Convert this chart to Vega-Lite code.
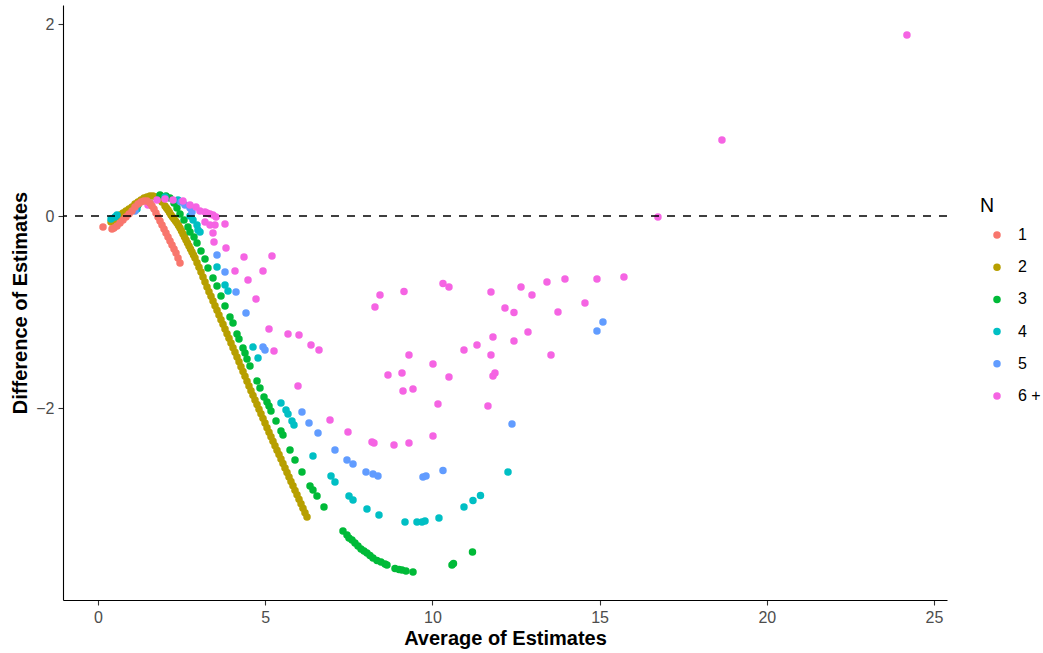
{
  "$schema": "https://vega.github.io/schema/vega-lite/v6.json",
  "width": 884,
  "height": 595,
  "autosize": {"type": "none"},
  "padding": {"left": 63, "top": 5, "right": 96, "bottom": 53},
  "background": "white",
  "config": {"view": {"stroke": null}, "font": "Liberation Sans"},
  "layer": [
    {
      "data": {"values": [
        {"avg":0.389,"diff":-0.0625,"N":"2"},{"avg":0.478,"diff":-0.042,"N":"2"},{"avg":0.568,"diff":-0.010,"N":"2"},{"avg":0.658,"diff":0.010,"N":"2"},{"avg":0.748,"diff":0.031,"N":"2"},{"avg":0.837,"diff":0.052,"N":"2"},{"avg":0.927,"diff":0.073,"N":"2"},{"avg":1.017,"diff":0.094,"N":"2"},{"avg":1.106,"diff":0.125,"N":"2"},{"avg":1.196,"diff":0.146,"N":"2"},{"avg":1.286,"diff":0.167,"N":"2"},{"avg":1.376,"diff":0.1875,"N":"2"},{"avg":1.465,"diff":0.198,"N":"2"},{"avg":1.555,"diff":0.208,"N":"2"},{"avg":1.645,"diff":0.208,"N":"2"},{"avg":1.734,"diff":0.198,"N":"2"},{"avg":1.824,"diff":0.177,"N":"2"},{"avg":1.914,"diff":0.146,"N":"2"},{"avg":2.004,"diff":0.104,"N":"2"},{"avg":2.048,"diff":0.083,"N":"2"},{"avg":2.093,"diff":0.0625,"N":"2"},{"avg":2.138,"diff":0.036,"N":"2"},{"avg":2.183,"diff":0.010,"N":"2"},{"avg":2.228,"diff":-0.010,"N":"2"},{"avg":2.273,"diff":-0.031,"N":"2"},{"avg":2.318,"diff":-0.052,"N":"2"},{"avg":2.362,"diff":-0.073,"N":"2"},{"avg":2.407,"diff":-0.099,"N":"2"},{"avg":2.452,"diff":-0.125,"N":"2"},{"avg":2.497,"diff":-0.156,"N":"2"},{"avg":2.542,"diff":-0.1875,"N":"2"},{"avg":2.587,"diff":-0.219,"N":"2"},{"avg":2.632,"diff":-0.25,"N":"2"},{"avg":2.676,"diff":-0.281,"N":"2"},{"avg":2.721,"diff":-0.3125,"N":"2"},{"avg":2.766,"diff":-0.344,"N":"2"},{"avg":2.811,"diff":-0.375,"N":"2"},{"avg":2.856,"diff":-0.406,"N":"2"},{"avg":2.901,"diff":-0.4375,"N":"2"},
        {"avg":2.961,"diff":-0.486,"N":"2"},{"avg":3.020,"diff":-0.534,"N":"2"},{"avg":3.080,"diff":-0.583,"N":"2"},{"avg":3.140,"diff":-0.635,"N":"2"},{"avg":3.200,"diff":-0.6875,"N":"2"},{"avg":3.260,"diff":-0.740,"N":"2"},{"avg":3.319,"diff":-0.789,"N":"2"},{"avg":3.379,"diff":-0.836,"N":"2"},{"avg":3.439,"diff":-0.885,"N":"2"},{"avg":3.499,"diff":-0.934,"N":"2"},{"avg":3.559,"diff":-0.982,"N":"2"},{"avg":3.618,"diff":-1.031,"N":"2"},{"avg":3.678,"diff":-1.080,"N":"2"},{"avg":3.738,"diff":-1.128,"N":"2"},{"avg":3.798,"diff":-1.177,"N":"2"},{"avg":3.858,"diff":-1.226,"N":"2"},{"avg":3.917,"diff":-1.274,"N":"2"},{"avg":3.977,"diff":-1.323,"N":"2"},{"avg":4.037,"diff":-1.372,"N":"2"},{"avg":4.097,"diff":-1.420,"N":"2"},{"avg":4.157,"diff":-1.469,"N":"2"},{"avg":4.217,"diff":-1.519,"N":"2"},{"avg":4.276,"diff":-1.570,"N":"2"},{"avg":4.336,"diff":-1.620,"N":"2"},{"avg":4.396,"diff":-1.670,"N":"2"},{"avg":4.456,"diff":-1.721,"N":"2"},{"avg":4.515,"diff":-1.771,"N":"2"},{"avg":4.575,"diff":-1.819,"N":"2"},{"avg":4.635,"diff":-1.868,"N":"2"},{"avg":4.695,"diff":-1.916,"N":"2"},{"avg":4.755,"diff":-1.964,"N":"2"},{"avg":4.815,"diff":-2.013,"N":"2"},{"avg":4.874,"diff":-2.060,"N":"2"},{"avg":4.934,"diff":-2.108,"N":"2"},{"avg":4.994,"diff":-2.157,"N":"2"},{"avg":5.054,"diff":-2.205,"N":"2"},{"avg":5.114,"diff":-2.252,"N":"2"},{"avg":5.173,"diff":-2.299,"N":"2"},{"avg":5.233,"diff":-2.346,"N":"2"},{"avg":5.293,"diff":-2.392,"N":"2"},{"avg":5.353,"diff":-2.439,"N":"2"},{"avg":5.413,"diff":-2.485,"N":"2"},{"avg":5.472,"diff":-2.532,"N":"2"},{"avg":5.532,"diff":-2.578,"N":"2"},{"avg":5.592,"diff":-2.625,"N":"2"},{"avg":5.652,"diff":-2.672,"N":"2"},{"avg":5.712,"diff":-2.719,"N":"2"},{"avg":5.771,"diff":-2.765,"N":"2"},{"avg":5.831,"diff":-2.811,"N":"2"},{"avg":5.891,"diff":-2.858,"N":"2"},{"avg":5.951,"diff":-2.904,"N":"2"},{"avg":6.011,"diff":-2.951,"N":"2"},{"avg":6.071,"diff":-2.998,"N":"2"},{"avg":6.130,"diff":-3.045,"N":"2"},{"avg":6.190,"diff":-3.091,"N":"2"},{"avg":6.250,"diff":-3.135,"N":"2"},
        {"avg":1.196,"diff":0.115,"N":"3"},{"avg":1.854,"diff":0.219,"N":"3"},{"avg":2.033,"diff":0.208,"N":"3"},{"avg":2.153,"diff":0.1875,"N":"3"},{"avg":2.273,"diff":0.135,"N":"3"},{"avg":2.362,"diff":0.083,"N":"3"},{"avg":2.452,"diff":0.021,"N":"3"},{"avg":2.572,"diff":-0.042,"N":"3"},{"avg":2.691,"diff":-0.115,"N":"3"},{"avg":2.751,"diff":-0.167,"N":"3"},{"avg":2.871,"diff":-0.219,"N":"3"},{"avg":2.961,"diff":-0.281,"N":"3"},{"avg":3.080,"diff":-0.365,"N":"3"},{"avg":3.200,"diff":-0.448,"N":"3"},{"avg":3.289,"diff":-0.542,"N":"3"},{"avg":3.439,"diff":-0.646,"N":"3"},{"avg":3.559,"diff":-0.729,"N":"3"},{"avg":3.678,"diff":-0.833,"N":"3"},{"avg":3.798,"diff":-0.9375,"N":"3"},{"avg":3.947,"diff":-1.052,"N":"3"},{"avg":4.037,"diff":-1.115,"N":"3"},{"avg":4.157,"diff":-1.229,"N":"3"},{"avg":4.216,"diff":-1.281,"N":"3"},{"avg":4.336,"diff":-1.375,"N":"3"},{"avg":4.396,"diff":-1.427,"N":"3"},{"avg":4.456,"diff":-1.490,"N":"3"},{"avg":4.545,"diff":-1.5625,"N":"3"},{"avg":4.755,"diff":-1.719,"N":"3"},{"avg":4.844,"diff":-1.792,"N":"3"},{"avg":4.964,"diff":-1.885,"N":"3"},{"avg":5.054,"diff":-1.9375,"N":"3"},{"avg":5.114,"diff":-1.979,"N":"3"},{"avg":5.173,"diff":-2.031,"N":"3"},{"avg":5.323,"diff":-2.135,"N":"3"},{"avg":5.472,"diff":-2.240,"N":"3"},{"avg":5.532,"diff":-2.281,"N":"3"},{"avg":5.742,"diff":-2.4375,"N":"3"},{"avg":5.891,"diff":-2.542,"N":"3"},{"avg":6.100,"diff":-2.667,"N":"3"},{"avg":6.340,"diff":-2.8125,"N":"3"},{"avg":6.429,"diff":-2.854,"N":"3"},{"avg":6.549,"diff":-2.917,"N":"3"},{"avg":6.758,"diff":-3.031,"N":"3"},
        {"avg":7.326,"diff":-3.281,"N":"3"},{"avg":7.446,"diff":-3.323,"N":"3"},{"avg":7.506,"diff":-3.354,"N":"3"},{"avg":7.596,"diff":-3.375,"N":"3"},{"avg":7.685,"diff":-3.406,"N":"3"},{"avg":7.775,"diff":-3.4375,"N":"3"},{"avg":7.865,"diff":-3.469,"N":"3"},{"avg":7.955,"diff":-3.490,"N":"3"},{"avg":8.044,"diff":-3.510,"N":"3"},{"avg":8.134,"diff":-3.536,"N":"3"},{"avg":8.224,"diff":-3.5625,"N":"3"},{"avg":8.343,"diff":-3.589,"N":"3"},{"avg":8.463,"diff":-3.604,"N":"3"},{"avg":8.583,"diff":-3.625,"N":"3"},{"avg":8.642,"diff":-3.635,"N":"3"},{"avg":8.882,"diff":-3.672,"N":"3"},{"avg":9.001,"diff":-3.682,"N":"3"},{"avg":9.091,"diff":-3.6875,"N":"3"},{"avg":9.211,"diff":-3.698,"N":"3"},{"avg":9.420,"diff":-3.708,"N":"3"},{"avg":10.586,"diff":-3.635,"N":"3"},{"avg":10.631,"diff":-3.620,"N":"3"},{"avg":11.199,"diff":-3.5,"N":"3"},
        {"avg":0.389,"diff":-0.031,"N":"4"},{"avg":0.508,"diff":-0.010,"N":"4"},{"avg":0.568,"diff":0.010,"N":"4"},{"avg":1.166,"diff":0.073,"N":"4"},{"avg":2.004,"diff":0.198,"N":"4"},{"avg":2.392,"diff":0.167,"N":"4"},{"avg":2.751,"diff":0.0,"N":"4"},{"avg":2.841,"diff":-0.042,"N":"4"},{"avg":2.961,"diff":-0.094,"N":"4"},{"avg":2.990,"diff":-0.146,"N":"4"},{"avg":3.050,"diff":-0.167,"N":"4"},{"avg":3.559,"diff":-0.531,"N":"4"},{"avg":3.798,"diff":-0.719,"N":"4"},{"avg":3.888,"diff":-0.781,"N":"4"},{"avg":4.635,"diff":-1.365,"N":"4"},{"avg":4.785,"diff":-1.479,"N":"4"},{"avg":5.472,"diff":-1.948,"N":"4"},{"avg":5.622,"diff":-2.021,"N":"4"},{"avg":5.682,"diff":-2.0625,"N":"4"},{"avg":5.801,"diff":-2.135,"N":"4"},{"avg":5.861,"diff":-2.177,"N":"4"},{"avg":6.429,"diff":-2.5,"N":"4"},{"avg":6.968,"diff":-2.708,"N":"4"},{"avg":7.087,"diff":-2.771,"N":"4"},{"avg":7.506,"diff":-2.917,"N":"4"},{"avg":7.626,"diff":-2.958,"N":"4"},{"avg":8.044,"diff":-3.052,"N":"4"},{"avg":8.403,"diff":-3.115,"N":"4"},{"avg":9.181,"diff":-3.1875,"N":"4"},{"avg":9.539,"diff":-3.1875,"N":"4"},{"avg":9.689,"diff":-3.1875,"N":"4"},{"avg":9.779,"diff":-3.177,"N":"4"},{"avg":10.197,"diff":-3.146,"N":"4"},{"avg":10.945,"diff":-3.031,"N":"4"},{"avg":11.214,"diff":-2.964,"N":"4"},{"avg":11.438,"diff":-2.911,"N":"4"},{"avg":12.261,"diff":-2.667,"N":"4"},
        {"avg":1.106,"diff":0.052,"N":"5"},{"avg":1.555,"diff":0.135,"N":"5"},{"avg":2.482,"diff":0.146,"N":"5"},{"avg":2.602,"diff":0.115,"N":"5"},{"avg":2.751,"diff":0.083,"N":"5"},{"avg":2.811,"diff":0.042,"N":"5"},{"avg":3.559,"diff":-0.406,"N":"5"},{"avg":3.798,"diff":-0.583,"N":"5"},{"avg":4.127,"diff":-0.792,"N":"5"},{"avg":4.426,"diff":-1.010,"N":"5"},{"avg":4.934,"diff":-1.365,"N":"5"},{"avg":4.994,"diff":-1.396,"N":"5"},{"avg":6.100,"diff":-2.042,"N":"5"},{"avg":6.310,"diff":-2.156,"N":"5"},{"avg":6.579,"diff":-2.260,"N":"5"},{"avg":7.087,"diff":-2.4375,"N":"5"},{"avg":7.446,"diff":-2.542,"N":"5"},{"avg":7.626,"diff":-2.583,"N":"5"},{"avg":8.014,"diff":-2.667,"N":"5"},{"avg":8.224,"diff":-2.6875,"N":"5"},{"avg":8.373,"diff":-2.708,"N":"5"},{"avg":9.719,"diff":-2.719,"N":"5"},{"avg":9.809,"diff":-2.708,"N":"5"},{"avg":10.317,"diff":-2.651,"N":"5"},{"avg":12.380,"diff":-2.167,"N":"5"},{"avg":14.922,"diff":-1.198,"N":"5"},{"avg":15.101,"diff":-1.104,"N":"5"},
        {"avg":1.495,"diff":0.115,"N":"6 +"},{"avg":1.764,"diff":0.167,"N":"6 +"},{"avg":2.004,"diff":0.177,"N":"6 +"},{"avg":2.243,"diff":0.167,"N":"6 +"},{"avg":2.542,"diff":0.156,"N":"6 +"},{"avg":2.751,"diff":0.115,"N":"6 +"},{"avg":2.931,"diff":0.094,"N":"6 +"},{"avg":3.050,"diff":0.052,"N":"6 +"},{"avg":3.200,"diff":0.042,"N":"6 +"},{"avg":3.260,"diff":0.031,"N":"6 +"},{"avg":3.349,"diff":0.021,"N":"6 +"},{"avg":3.439,"diff":0.010,"N":"6 +"},{"avg":3.529,"diff":-0.010,"N":"6 +"},{"avg":3.200,"diff":-0.0625,"N":"6 +"},{"avg":3.349,"diff":-0.094,"N":"6 +"},{"avg":3.499,"diff":-0.094,"N":"6 +"},{"avg":3.798,"diff":-0.083,"N":"6 +"},{"avg":3.439,"diff":-0.177,"N":"6 +"},{"avg":3.469,"diff":-0.271,"N":"6 +"},{"avg":3.828,"diff":-0.333,"N":"6 +"},{"avg":4.366,"diff":-0.427,"N":"6 +"},{"avg":4.097,"diff":-0.573,"N":"6 +"},{"avg":4.486,"diff":-0.667,"N":"6 +"},{"avg":4.725,"diff":-0.865,"N":"6 +"},{"avg":5.203,"diff":-0.417,"N":"6 +"},{"avg":4.934,"diff":-0.573,"N":"6 +"},{"avg":5.114,"diff":-1.177,"N":"6 +"},{"avg":5.682,"diff":-1.229,"N":"6 +"},{"avg":6.011,"diff":-1.240,"N":"6 +"},{"avg":6.370,"diff":-1.344,"N":"6 +"},{"avg":6.609,"diff":-1.396,"N":"6 +"},{"avg":5.263,"diff":-1.406,"N":"6 +"},{"avg":5.981,"diff":-1.771,"N":"6 +"},{"avg":6.938,"diff":-2.125,"N":"6 +"},{"avg":7.476,"diff":-2.25,"N":"6 +"},{"avg":8.194,"diff":-2.354,"N":"6 +"},{"avg":8.253,"diff":-2.365,"N":"6 +"},{"avg":8.852,"diff":-2.385,"N":"6 +"},{"avg":9.300,"diff":-2.365,"N":"6 +"},{"avg":10.018,"diff":-2.292,"N":"6 +"},{"avg":10.167,"diff":-1.958,"N":"6 +"},{"avg":11.662,"diff":-1.979,"N":"6 +"},{"avg":8.672,"diff":-1.656,"N":"6 +"},{"avg":9.091,"diff":-1.635,"N":"6 +"},{"avg":9.121,"diff":-1.823,"N":"6 +"},{"avg":9.420,"diff":-1.802,"N":"6 +"},{"avg":9.300,"diff":-1.448,"N":"6 +"},{"avg":10.018,"diff":-1.542,"N":"6 +"},{"avg":10.496,"diff":-1.677,"N":"6 +"},{"avg":10.945,"diff":-1.396,"N":"6 +"},{"avg":11.334,"diff":-1.344,"N":"6 +"},{"avg":11.752,"diff":-1.448,"N":"6 +"},{"avg":11.812,"diff":-1.260,"N":"6 +"},{"avg":11.812,"diff":-1.667,"N":"6 +"},{"avg":11.872,"diff":-1.635,"N":"6 +"},{"avg":12.440,"diff":-1.302,"N":"6 +"},{"avg":12.859,"diff":-1.208,"N":"6 +"},{"avg":13.547,"diff":-1.448,"N":"6 +"},{"avg":8.283,"diff":-0.948,"N":"6 +"},{"avg":8.433,"diff":-0.823,"N":"6 +"},{"avg":9.151,"diff":-0.786,"N":"6 +"},{"avg":10.317,"diff":-0.703,"N":"6 +"},{"avg":10.496,"diff":-0.740,"N":"6 +"},{"avg":11.752,"diff":-0.792,"N":"6 +"},{"avg":12.171,"diff":-0.958,"N":"6 +"},{"avg":12.440,"diff":-1.005,"N":"6 +"},{"avg":12.650,"diff":-0.740,"N":"6 +"},{"avg":12.978,"diff":-0.823,"N":"6 +"},{"avg":13.427,"diff":-0.6875,"N":"6 +"},{"avg":13.965,"diff":-0.656,"N":"6 +"},{"avg":13.756,"diff":-1.0,"N":"6 +"},{"avg":14.563,"diff":-0.906,"N":"6 +"},{"avg":14.922,"diff":-0.656,"N":"6 +"},{"avg":15.729,"diff":-0.635,"N":"6 +"},{"avg":16.746,"diff":-0.010,"N":"6 +"},{"avg":18.660,"diff":0.792,"N":"6 +"},{"avg":24.192,"diff":1.885,"N":"6 +"},
        {"avg":0.15,"diff":-0.115,"N":"1"},{"avg":0.419,"diff":-0.135,"N":"1"},{"avg":0.478,"diff":-0.125,"N":"1"},{"avg":0.568,"diff":-0.104,"N":"1"},{"avg":0.658,"diff":-0.073,"N":"1"},{"avg":0.748,"diff":-0.042,"N":"1"},{"avg":0.837,"diff":-0.010,"N":"1"},{"avg":0.927,"diff":0.021,"N":"1"},{"avg":1.017,"diff":0.052,"N":"1"},{"avg":1.106,"diff":0.094,"N":"1"},{"avg":1.196,"diff":0.125,"N":"1"},{"avg":1.286,"diff":0.146,"N":"1"},{"avg":1.376,"diff":0.156,"N":"1"},{"avg":1.465,"diff":0.156,"N":"1"},{"avg":1.555,"diff":0.135,"N":"1"},{"avg":1.615,"diff":0.104,"N":"1"},{"avg":1.675,"diff":0.073,"N":"1"},{"avg":1.734,"diff":0.031,"N":"1"},{"avg":1.794,"diff":-0.010,"N":"1"},{"avg":1.854,"diff":-0.052,"N":"1"},{"avg":1.914,"diff":-0.094,"N":"1"},{"avg":1.974,"diff":-0.135,"N":"1"},{"avg":2.033,"diff":-0.177,"N":"1"},{"avg":2.093,"diff":-0.219,"N":"1"},{"avg":2.153,"diff":-0.260,"N":"1"},{"avg":2.213,"diff":-0.302,"N":"1"},{"avg":2.273,"diff":-0.344,"N":"1"},{"avg":2.333,"diff":-0.385,"N":"1"},{"avg":2.392,"diff":-0.4375,"N":"1"},{"avg":2.452,"diff":-0.490,"N":"1"}
      ]},
      "mark": {"type": "circle", "size": 56, "opacity": 1},
      "encoding": {
        "x": {"field": "avg", "type": "quantitative",
          "scale": {"domain": [-1.047, 25.39], "nice": false, "zero": false},
          "axis": {"title": "Average of Estimates", "values": [0, 5, 10, 15, 20, 25], "format": "d", "grid": false,
            "domainColor": "black", "domainWidth": 1.1, "tickColor": "#333333", "tickWidth": 1.1, "tickSize": 5,
            "labelColor": "#4d4d4d", "labelFontSize": 16, "labelPadding": 4,
            "titleFontSize": 20, "titleFontWeight": "bold", "titleColor": "black", "titlePadding": 3}},
        "y": {"field": "diff", "type": "quantitative",
          "scale": {"domain": [-4.0, 2.198], "nice": false, "zero": false},
          "axis": {"title": "Difference of Estimates", "values": [-2, 0, 2], "format": "d", "grid": false,
            "domainColor": "black", "domainWidth": 1.1, "tickColor": "#333333", "tickWidth": 1.1, "tickSize": 5,
            "labelColor": "#4d4d4d", "labelFontSize": 16, "labelPadding": 4,
            "titleFontSize": 20, "titleFontWeight": "bold", "titleColor": "black", "titlePadding": 5}},
        "color": {"field": "N", "type": "nominal",
          "scale": {"domain": ["1", "2", "3", "4", "5", "6 +"], "range": ["#F8766D", "#B79F00", "#00BA38", "#00BFC4", "#619CFF", "#F564E3"]},
          "legend": {"title": "N", "orient": "none", "legendX": 917, "legendY": 192,
            "titleFontSize": 19.5, "titleFontWeight": "normal", "titleColor": "black", "titlePadding": 10.5,
            "labelFontSize": 16, "labelColor": "black", "labelOffset": 13,
            "symbolType": "circle", "symbolSize": 56, "symbolStrokeWidth": 0, "symbolOffset": 9,
            "rowPadding": 16.2}}
      }
    },
    {
      "data": {"values": [{"ref": 0}]},
      "mark": {"type": "rule", "strokeDash": [8, 8], "strokeWidth": 1.5, "color": "black"},
      "encoding": {
        "y": {"field": "ref", "type": "quantitative", "scale": {"domain": [-4.0, 2.198], "nice": false, "zero": false}}
      }
    }
  ]
}
